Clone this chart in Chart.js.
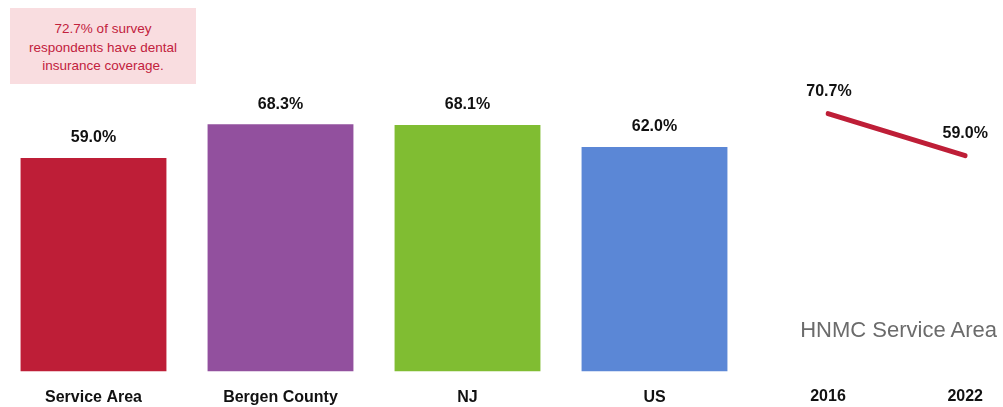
<!DOCTYPE html>
<html>
<head>
<meta charset="utf-8">
<script src="https://cdn.jsdelivr.net/npm/chart.js@4"></script>
<style>
  body { margin: 0; background: #fff; width: 1003px; height: 407px; overflow: hidden; position: relative; }
  .bar-wrap { position: absolute; left: 0; top: 3px; width: 748px; height: 422px; }
  .line-wrap { position: absolute; left: 760px; top: 2px; width: 243px; height: 425px; }
  .note {
    position: absolute; left: 10px; top: 8px; width: 186px; height: 76px;
    background: #f9dde0; color: #c2213d; text-align: center;
    font-family: 'Liberation Sans', Arial, sans-serif;
    font-size: 13.5px; line-height: 18.5px; padding-top: 12px; box-sizing: border-box;
  }
  .area-label {
    position: absolute; right: 6px; top: 317px; color: #6b6b6b;
    font-family: 'Liberation Sans', Arial, sans-serif; font-size: 22px;
  }
</style>
</head>
<body>
<div class="note">72.7% of survey<br>respondents have dental<br>insurance coverage.</div>
<div class="bar-wrap"><canvas class="bar-chart"></canvas></div>
<div class="line-wrap"><canvas class="trend-chart"></canvas></div>
<div class="area-label">HNMC Service Area</div>
<script>
const areas = ['Service Area', 'Bergen County', 'NJ', 'US'];
const coverage = [59.0, 68.3, 68.1, 62.0];
const barColors = ['#be1e37', '#92509e', '#80bd32', '#5b87d6'];

const years = ['2016', '2022'];
const serviceTrend = [70.7, 59.0];

const labelFont = "'Liberation Sans', Arial, sans-serif";

// draws the % value above each bar / point
const valueLabels = {
  id: 'valueLabels',
  afterDatasetsDraw(chart, args, opts) {
    const c = chart.ctx;
    c.save();
    c.font = 'bold 16px ' + labelFont;
    c.fillStyle = '#111';
    c.textAlign = 'center';
    c.textBaseline = 'middle';
    chart.getDatasetMeta(0).data.forEach((el, i) => {
      const v = chart.data.datasets[0].data[i];
      c.fillText(v.toFixed(1) + '%', el.x + (opts.dx ? opts.dx[i] : 0), el.y - opts.gap);
    });
    c.restore();
  }
};

Chart.defaults.animation = false;

new Chart(document.querySelector('.bar-chart'), {
  type: 'bar',
  data: {
    labels: areas,
    datasets: [{
      data: coverage,
      backgroundColor: barColors,
      barPercentage: 0.78,
      categoryPercentage: 1
    }]
  },
  options: {
    responsive: true,
    maintainAspectRatio: false,
    layout: { padding: { top: 6.5, bottom: 0.4, left: 0, right: 0 } },
    scales: {
      x: {
        grid: { display: false, drawTicks: false },
        border: { display: false },
        ticks: { color: '#111', padding: 17, font: { family: labelFont, size: 16, weight: 'bold' } }
      },
      y: { display: false, min: 0, max: 100 }
    },
    plugins: {
      legend: { display: false },
      tooltip: { enabled: false },
      valueLabels: { gap: 20 }
    }
  },
  plugins: [valueLabels]
});

new Chart(document.querySelector('.trend-chart'), {
  type: 'line',
  data: {
    labels: years,
    datasets: [{
      data: serviceTrend,
      borderColor: '#be1e37',
      borderWidth: 5,
      borderCapStyle: 'round',
      pointRadius: 0,
      tension: 0
    }]
  },
  options: {
    responsive: true,
    maintainAspectRatio: false,
    layout: { padding: { top: 6.5, bottom: 0.4, left: 68, right: 37 } },
    scales: {
      x: {
        offset: false,
        grid: { display: false, drawTicks: false },
        border: { display: false },
        ticks: { color: '#111', padding: 20, font: { family: labelFont, size: 16, weight: 'bold' } }
      },
      y: { display: false, min: 0, max: 100 }
    },
    plugins: {
      legend: { display: false },
      tooltip: { enabled: false },
      valueLabels: { gap: 22, dx: [1, 0] }
    }
  },
  plugins: [valueLabels]
});
</script>
</body>
</html>
